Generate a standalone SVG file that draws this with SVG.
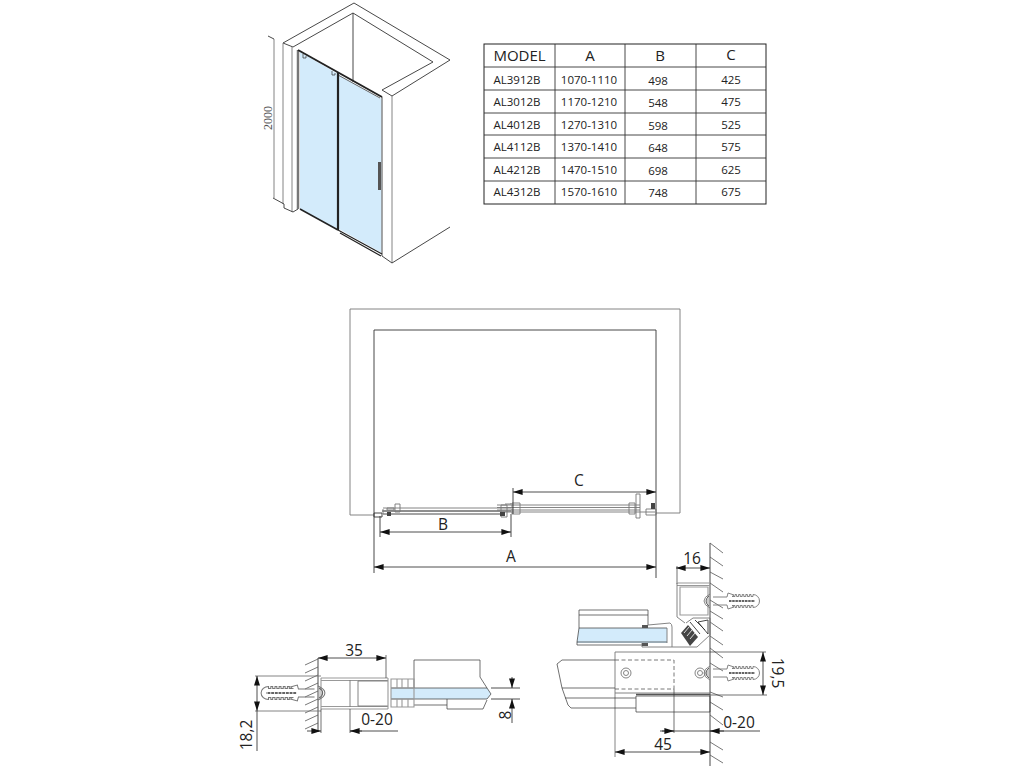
<svg xmlns="http://www.w3.org/2000/svg" width="1024" height="768" viewBox="0 0 1024 768">
<style>
text{font-family:"Open Sans","Noto Sans",sans-serif;fill:#222}
.l{fill:none;stroke:#333;stroke-width:.9}
.t{fill:none;stroke:#333;stroke-width:.7}
.g{fill:none;stroke:#777;stroke-width:.9}
.gt{fill:none;stroke:#999;stroke-width:1.100}
.h{fill:none;stroke:#555;stroke-width:.8}
.glass{fill:#d3ebfb}
.d{fill:none;stroke:#222;stroke-width:.8}
.a{marker-start:url(#ar);marker-end:url(#ar)}
.ae{marker-end:url(#ar)}
.cell{font-size:11.5px;text-anchor:middle}
.head{font-size:15px;text-anchor:middle}
.dim{font-size:15.5px;text-anchor:middle}
</style>
<defs>
<marker id="ar" markerUnits="userSpaceOnUse" markerWidth="10" markerHeight="6" refX="8" refY="2.5" orient="auto-start-reverse" viewBox="0 0 8 5"><path d="M0,0L8,2.500L0,5Z" fill="#111"/></marker>
<g id="dowel">
<path class="g" d="M3,-4H17L18,-8L24,-6L22,-4.500H25v-2h1.600v2h2v-2h1.600v2h2v-2h1.600v2h2v-2h1.600v2h2v-2h1.600v2H43V-6.500A6.500,6.500 0 0 1 43,6.500V4.500H41v2h-1.600v-2h-2v2h-1.600v-2h-2v2h-1.600v-2h-2v2h-1.600v-2h-2v2H25v-2H22L24,6L18,8L17,4H3"/>
<path d="M19,0H45" stroke="#333" stroke-width="1.300" stroke-dasharray="2.500 .7" fill="none"/>
<path class="g" d="M0,-7Q-6,-4 -6,0T0,7"/>
<path d="M-1,-5Q-4,-3 -4,0T-1,5" stroke="#666" stroke-width="1" fill="#ccc"/>
</g>
</defs>

<g id="shower-view">
<path class="glass" d="M300,52L338,74V230L300,209Z"/>
<path class="glass" d="M339,75L382,99V253L339,229Z"/>
<path class="l" d="M283,43L354,3L450,60L392,96L382,90L433,62L353,13L293,47L283,43"/>
<path class="l" d="M353,13V82"/>
<path class="g" d="M274,39V198M283,43V204M292,47V212M392,96V263"/>
<path class="l" d="M274,39L268,36M273,198L284,204V208L293,212L298,209M392,263L450,227M382,256L392,263"/>
<path d="M298,50V209" stroke="#777" stroke-width="2.500" fill="none"/>
<path d="M382,97V256" stroke="#888" stroke-width="1.500" fill="none"/>
<path d="M298,50L382,97" stroke="#222" stroke-width="2" fill="none"/>
<path d="M338,75L380,98" stroke="#666" stroke-width="1" fill="none"/>
<path d="M338,72V230" stroke="#222" stroke-width="2.200" fill="none"/>
<path d="M300,209L338,230" stroke="#222" stroke-width="1.500" fill="none"/>
<path d="M338,230L382,254M340,233L381,256" stroke="#222" stroke-width="1.200" fill="none"/>
<path d="M379.500,162V190" stroke="#555" stroke-width="3" fill="none"/>
<path class="t" d="M303,54V58h3V56M332,71V75h3V73"/>
<text transform="translate(272,118) rotate(-90)" text-anchor="middle" style="font-family:'Liberation Serif',serif;font-size:12px;fill:#555">2000</text>
</g>

<g id="size-table">
<rect x="484" y="44" width="282" height="160" fill="#fff" stroke="#222" stroke-width="1"/>
<path class="l" d="M555,44V204M625,44V204M696,44V204M484,67H766M484,90H766M484,113H766M484,135H766M484,158H766M484,181H766"/>
<text class="head" x="519.500" y="61">MODEL</text><text class="head" x="590" y="61">A</text><text class="head" x="660" y="61">B</text><text class="head" x="731" y="60">C</text>
<text class="cell" x="517" y="84">AL3912B</text><text class="cell" x="589" y="84">1070-1110</text><text class="cell" x="658" y="85">498</text><text class="cell" x="731" y="84">425</text>
<text class="cell" x="517" y="106">AL3012B</text><text class="cell" x="589" y="106">1170-1210</text><text class="cell" x="658" y="107">548</text><text class="cell" x="731" y="106">475</text>
<text class="cell" x="517" y="129">AL4012B</text><text class="cell" x="589" y="129">1270-1310</text><text class="cell" x="658" y="130">598</text><text class="cell" x="731" y="129">525</text>
<text class="cell" x="517" y="151">AL4112B</text><text class="cell" x="589" y="151">1370-1410</text><text class="cell" x="658" y="152">648</text><text class="cell" x="731" y="151">575</text>
<text class="cell" x="517" y="174">AL4212B</text><text class="cell" x="589" y="174">1470-1510</text><text class="cell" x="658" y="175">698</text><text class="cell" x="731" y="174">625</text>
<text class="cell" x="517" y="196">AL4312B</text><text class="cell" x="589" y="196">1570-1610</text><text class="cell" x="658" y="197">748</text><text class="cell" x="731" y="196">675</text>
</g>

<g id="plan-view">
<path class="g" d="M350,515V309H680V513H656"/>
<path class="g" d="M350,515H374"/>
<path class="l" d="M374,573V330H656V578"/>
<path class="l" d="M374,513h8v4h-8ZM382,511H511M383,514H505"/>
<path class="g" d="M383,508H511M383,511H500M383,509v5M497,505H640M497,507.500H640M497,510H640M500,512H655"/>
<path class="g" d="M387,510h7v-2h-7ZM395,504h5v8h-5ZM505,504h6v-1M501,505h6v12h-6ZM512,503h8v11h-8ZM629,503h6v11h-6ZM636,494h4v24h-4ZM646,509h10v6h-10Z"/>
<path d="M387,512h4v4h-4ZM500,512h5v4h-5ZM651,503h4v6h-4Z" fill="#444"/>
<path class="d a" d="M374,567H656"/>
<path class="d a" d="M380,532H511"/>
<path class="d a" d="M513,492H656"/>
<path class="l" d="M380,516V537M511,514V537M513,488V514"/>
<text class="dim" x="443" y="530">B</text><text class="dim" x="511" y="562">A</text><text class="dim" x="579" y="486">C</text>
</g>

<g id="left-detail">
<path class="glass" d="M391,688H487L491,694L487,699H391Z"/>
<path class="l" d="M318,658V732"/>
<path class="h" d="M305,665L318,659M305,673L318,667M305,681L318,675M305,689L318,683M305,697L318,691M305,705L318,699M305,713L318,707M305,721L318,715M305,729L318,723"/>
<path class="g" d="M255,676H321M255,711H321"/>
<path class="gt" d="M321,678H388M321,680.500H388M321,709H388M321,706.500H388M321,678V709"/>
<path class="g" d="M350,680V707M358,681V706H388M358,681H388"/>
<use href="#dowel" transform="translate(318,693) scale(-1.150,1)"/>
<path class="t" d="M414,688V660H480V677L487,688M391,688H487L491,694L487,699H391M414,705H447M447,699V709H483L487,700"/>
<path class="gt" d="M388,678V709M391,679H414V707H391ZM391,688H414M391,699H414M397,679v9M397,699v8M402,679v9M402,699v8M408,679v9M408,699v8"/>
<path class="d a" d="M318,658H386"/>
<path class="t" d="M386,655V678"/>
<path class="d a" d="M257,676V711"/>
<path class="d" d="M257,711V751"/>
<path class="d ae" d="M307,731H321"/>
<path class="d" d="M350,731H398"/>
<path class="ae" d="M362,731H350" stroke="#222" stroke-width=".8"/>
<path class="t" d="M321,709V733M350,709V733"/>
<path class="d" d="M491,688H520M491,699H520"/>
<path class="d ae" d="M512,677V688"/>
<path class="d ae" d="M512,723V699"/>
<text class="dim" x="354" y="656">35</text>
<text class="dim" x="377" y="725">0-20</text>
<text class="dim" transform="translate(252,735) rotate(-90)" text-anchor="middle">18,2</text>
<text class="dim" transform="translate(511,715) rotate(-90)" text-anchor="middle">8</text>
</g>

<g id="right-top-detail">
<path class="glass" d="M579,628H667V643H577Z"/>
<path class="l" d="M710,543V766"/>
<path class="h" d="M710,543l13,10M710,557l13,9M710,572l13,7M710,583l13,9M710,600l13,8M710,611l13,8M710,622l13,9M710,636l13,9M710,648l13,10M710,663l13,8M710,692l13,5M710,702l13,8M710,715l13,10M710,742l13,8M710,755l13,8"/>
<path class="d a" d="M676,568H710"/>
<path class="t" d="M677,566V584"/>
<path class="gt" d="M677,583H710M677,585.500H710M680,587H708V615H680Z"/>
<path class="g" d="M685,623L677,617V583"/>
<use href="#dowel" transform="translate(710,601)"/>
<path class="t" d="M579,610H648V625M579,615H648M579,610V628L577,642V645H642M579,628H667M577,642H667"/>
<path class="g" d="M648,625L670,623Q672,624 672,627V647H642V643M667,628V643M672,647H697L710,635V618H693L686,623"/>
<path d="M681,633L688,625L698,637L690,646Z" fill="#444"/>
<path d="M684,633L689,627M687,636L692,630M690,639L695,633" stroke="#fff" stroke-width=".8"/>
<path class="l" d="M690,622l10,12M695,620l10,10M708,620V634L698,622Z"/>
<path d="M642,625h6v3h-6ZM642,643h6v3h-6Z" fill="#555"/>
<text class="dim" x="692" y="564">16</text>
</g>

<g id="right-bottom-detail">
<path class="g" d="M615,652H710M615,652V757"/>
<path class="t" d="M710,652H766"/>
<path class="t" d="M615,660H562L557,664L562,688L568,705L571,708H636M562,688H615M565,698H636"/>
<path d="M615,660H674V689H615" fill="none" stroke="#555" stroke-width=".8" stroke-dasharray="4 2.500"/>
<path class="g" d="M615,693H710"/>
<path class="t" d="M636,696H710V712H636Z"/>
<path d="M636,694.500H710" stroke="#555" stroke-width="1.500"/>
<circle class="g" cx="626" cy="673" r="5"/><circle class="g" cx="626" cy="673" r="2.500"/>
<circle class="g" cx="700" cy="673" r="5"/><circle class="g" cx="700" cy="673" r="2.500"/>
<use href="#dowel" transform="translate(710,673)"/>
<path class="t" d="M674,689V733"/>
<path class="d a" d="M615,752H710"/>
<path class="d" d="M660,731H760"/>
<path class="d ae" d="M662,731H674"/>
<path class="d ae" d="M724,731H710"/>
<path class="t" d="M710,695H767"/>
<path class="d a" d="M763,652V695"/>
<text class="dim" x="739" y="728">0-20</text>
<text class="dim" x="663" y="750">45</text>
<text class="dim" transform="translate(772,673) rotate(90)" text-anchor="middle">19,5</text>
</g>
</svg>
